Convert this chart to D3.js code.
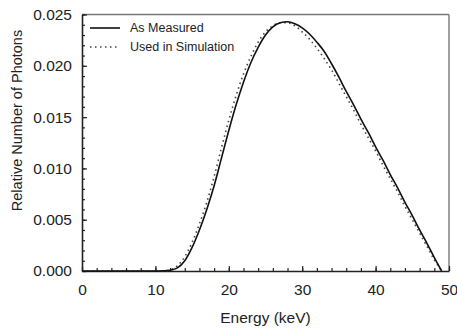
<!DOCTYPE html>
<html>
<head>
<meta charset="utf-8">
<script src="https://cdn.jsdelivr.net/npm/d3@7"></script>
<style>
  body { margin: 0; background: #fff; }
  svg text { font-family: "Liberation Sans", Arial, sans-serif; fill: #222; }
</style>
</head>
<body>
<div class="graph"></div>
<script>
// energies in keV
const energy = [0,1,2,3,4,5,6,7,8,9,10,11,12,13,14,15,16,17,18,19,20,21,22,23,24,25,26,27,28,29,30,31,32,33,34,35,36,37,38,39,40,41,42,43,44,45,46,47,48,49];
const measured = [0,0,0,0,0,0,0,0,0,0,0,0.00002,0.00008,0.0003,0.0010,0.0023,0.0040,0.0060,0.0083,0.0110,0.0137,0.0162,0.0184,0.0203,0.0218,0.0230,0.0238,0.0242,0.0243,0.0241,0.0237,0.0231,0.0223,0.0214,0.0202,0.0189,0.0175,0.0162,0.0148,0.0135,0.0121,0.0108,0.0094,0.0081,0.0067,0.0054,0.0040,0.0027,0.0013,0.0000];
const simulated = [0,0,0,0,0,0,0,0,0,0,0,0,0.0001,0.0005,0.0014,0.0028,0.0046,0.0067,0.0092,0.0120,0.0147,0.0171,0.0192,0.0209,0.0223,0.0233,0.0239,0.0242,0.0242,0.0239,0.0233,0.0226,0.0217,0.0207,0.0196,0.0183,0.0170,0.0157,0.0143,0.0130,0.0117,0.0103,0.0090,0.0077,0.0063,0.0050,0.0037,0.0024,0.0011,0.0000];
const xTicks = [0,10,20,30,40,50];
const yTicks = [0,0.005,0.010,0.015,0.020,0.025];
const legendLabels = ["As Measured","Used in Simulation"];

var margin = {top: 14.5, right: 8, bottom: 60, left: 82},
    width = 457 - margin.left - margin.right,
    height = 331 - margin.top - margin.bottom;

const svg = d3.select(".graph")
  .append("svg")
  .attr("width", 457)
  .attr("height", 331);
const g = svg.append("g")
  .attr("transform", "translate(" + margin.left + "," + margin.top + ")");

var x = d3.scaleLinear().domain([0, 50]).range([0, width]);
var y = d3.scaleLinear().domain([0, 0.025]).range([height, 0]);

// frame (top and right in grey)
g.append("line").attr("x1", 0).attr("x2", width).attr("y1", 0).attr("y2", 0)
  .attr("stroke", "#777").attr("stroke-width", 1.6);
g.append("line").attr("x1", width).attr("x2", width).attr("y1", 0).attr("y2", height)
  .attr("stroke", "#777").attr("stroke-width", 1.4);

// minor ticks
g.append("g")
  .attr("transform", "translate(0," + height + ")")
  .call(d3.axisBottom(x).tickValues(d3.range(0, 51, 2)).tickSize(-3).tickFormat(""))
  .call(a => a.select(".domain").remove());
g.append("g")
  .call(d3.axisLeft(y).tickValues(d3.range(0, 26).map(d => d / 1000)).tickSize(-3).tickFormat(""))
  .call(a => a.select(".domain").remove());

// major axes
const xAxis = g.append("g")
  .attr("transform", "translate(0," + height + ")")
  .call(d3.axisBottom(x).tickValues(xTicks).tickSizeInner(-5).tickSizeOuter(0).tickPadding(10).tickFormat(d3.format("d")));
const yAxis = g.append("g")
  .call(d3.axisLeft(y).tickValues(yTicks).tickSizeInner(-5).tickSizeOuter(0).tickPadding(10).tickFormat(d3.format(".3f")));

g.selectAll(".tick line").attr("stroke", "#222").attr("stroke-width", 1.2);
g.selectAll(".domain").attr("stroke", "#222").attr("stroke-width", 1.6);
g.selectAll(".tick text").attr("font-size", "15.5px").attr("fill", "#222");
xAxis.selectAll(".tick text").attr("dy", "0.9em");

// axis titles
svg.append("text")
  .attr("x", margin.left + width / 2)
  .attr("y", 323)
  .attr("text-anchor", "middle")
  .attr("font-size", "15.5px")
  .text("Energy (keV)");
svg.append("text")
  .attr("transform", "translate(22," + 120.5 + ") rotate(-90)")
  .attr("text-anchor", "middle")
  .attr("font-size", "14.5px")
  .text("Relative Number of Photons");

// curves
var line = d3.line()
  .x(function(d, i) { return x(energy[i]) })
  .y(function(d) { return y(d) })
  .curve(d3.curveMonotoneX);

g.append("path")
  .datum(simulated)
  .attr("fill", "none")
  .attr("stroke", "#444")
  .attr("stroke-width", 1.6)
  .attr("stroke-dasharray", "1.5,3.5")
  .attr("d", line);

g.append("path")
  .datum(measured)
  .attr("fill", "none")
  .attr("stroke", "#111")
  .attr("stroke-width", 1.6)
  .attr("d", line);

// legend
const legend = g.append("g").attr("transform", "translate(8,13.5)");
legendLabels.forEach(function(lbl, i) {
  legend.append("line")
    .attr("x1", 0).attr("x2", 30)
    .attr("y1", i * 19).attr("y2", i * 19)
    .attr("stroke", i === 0 ? "#111" : "#444")
    .attr("stroke-width", 1.6)
    .attr("stroke-dasharray", i === 0 ? null : "1.5,3.5");
  legend.append("text")
    .attr("x", 40)
    .attr("y", i * 19)
    .attr("dy", "0.35em")
    .attr("font-size", "12.5px")
    .text(lbl);
});
</script>
</body>
</html>
